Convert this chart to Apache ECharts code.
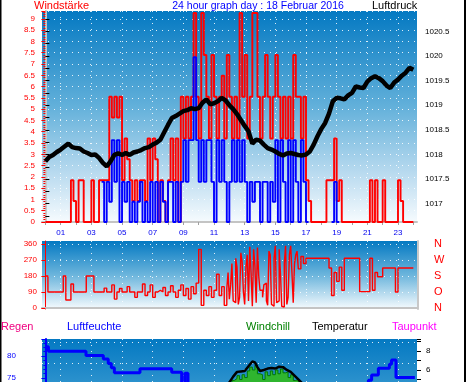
<!DOCTYPE html>
<html><head><meta charset="utf-8">
<script src="https://cdn.jsdelivr.net/npm/echarts@6/dist/echarts.min.js"></script>
<style>html,body{margin:0;padding:0;background:#fff}#c{width:470px;height:382px}</style>
</head><body><div id="c"></div>
<script>
// ---- tick / label arrays ----
const hourTicks = [0,1,2,3,4,5,6,7,8,9,10,11,12,13,14,15,16,17,18,19,20,21,22,23,24];
const hourLabels = [1,3,5,7,9,11,13,15,17,19,21,23];
const gridHours = [1,3,5,7,9,11,13,15,17,19,21,23];
const pressureLabels = [1017,1017.5,1018,1018.5,1019,1019.5,1020,1020.5];
const pressureTicks = [1016.75,1017,1017.25,1017.5,1017.75,1018,1018.25,1018.5,1018.75,1019,1019.25,1019.5,1019.75,1020,1020.25,1020.5,1020.75];
const dirTicks = [0,90,180,270,360];
const compass = ['N','O','S','W','N'];
const tempLabels = [-18,-16,-14,-12,-10,-8,-6,-4,-2,0,2,4,6,8];
const regenGrid = [0.53,1.53,2.53,3.53,4.53,5.53,6.53,7.53,8.53,9.53,10.53,11.53,12.53];

// ---- wind (10-minute samples, 00:00 .. 24:00) ----
const gust = [
 0,0,0,0,0,0,0,0,0,0,
 1.85,0.93,0,1.85,1.85,0,0,0,1.85,0,
 0,1.85,1.85,1.85,1.85,5.55,4.63,5.55,4.63,5.55,
 1.85,3.7,2.78,1.85,0.93,1.85,0.93,1.85,1.85,0.93,
 3.7,1.85,3.7,2.78,0,1.85,0.93,0,1.85,3.7,
 1.85,3.7,0,5.55,3.7,5.55,3.7,5.55,9.26,5.55,
 3.7,9.26,7.4,5.55,3.7,7.4,5.55,3.7,5.55,6.48,
 3.7,7.4,5.55,3.7,5.55,3.7,9.26,5.55,7.4,3.7,
 5.55,9.26,9.26,5.55,3.7,5.55,7.4,5.55,3.7,5.55,
 7.4,5.55,3.7,5.55,3.7,5.55,3.7,7.4,5.55,5.55,
 3.7,5.55,1.85,0.93,0,0,0,0,0,0,
 1.85,1.85,1.85,3.7,0.93,1.85,0,0,0,0,
 0,0,0,0,0,0,0,1.85,0,1.85,
 0,0,1.85,0,0,0,0,0,1.85,0.93,
 0,0,0,0,0
];
const avgWind = [
 null,null,null,null,null,null,null,null,null,null,
 null,null,null,null,null,null,null,null,null,null,
 null,null,1.78,0,1.78,0.9,3.63,1.78,3.63,0,
 1.78,0.9,1.78,0,0.9,0,0.9,1.78,0,0.9,
 0,1.78,0,1.78,0,1.78,0.9,0,1.78,1.78,
 0,1.78,0,1.78,3.63,1.78,3.63,3.63,7.3,3.63,
 1.78,3.63,1.78,3.63,3.63,1.78,0,3.63,1.78,3.63,
 1.78,0,1.78,3.63,1.78,3.63,1.78,3.63,1.78,0,
 1.78,0.9,1.78,1.78,0,1.78,1.78,0,1.78,0.9,
 3.63,0,3.63,1.78,0,3.63,0,3.63,1.78,0,
 3.63,1.78,0,null,null,null,null,null,null,null,
 null,null,0,1.78,0,null,null,null,null,null,
 null,null,null,null,null,null,null,null,null,null,
 null,null,null,null,null,null,null,null,null,null,
 null,null,null,null,null
];
// wind direction, 10-minute samples
const direction = [
 180,90,90,90,90,90,90,180,45,45,
 135,90,90,90,90,90,180,180,180,90,
 90,90,90,112,90,90,130,50,90,110,
 90,90,120,90,90,60,90,90,135,70,
 90,130,60,90,100,90,115,70,90,125,
 90,60,100,130,70,110,50,120,80,140,
 330,15,100,70,120,60,100,190,70,120,
 15,110,50,250,30,230,60,260,20,300,
 345,10,240,340,100,60,140,15,300,10,
 350,40,200,5,350,60,350,30,300,220,
 290,250,280,280,280,280,280,280,280,280,
 280,225,70,200,150,230,100,280,280,280,
 280,280,280,92,92,92,92,280,100,200,
 176,176,225,225,225,225,225,90,225,225,
 225,225,225,225,225
];
// extra 5-minute readings in the gusty afternoon (11:55 .. 16:25)
const directionExtraStart = 71;
const directionExtra = [200,130,40,280,20,310,90,230,40,200,330,30,180,100,130,40,320,20,280,30,330,10,250,20,300,200,250,320];
// ---- pressure (15-minute samples) ----
const pressure = [
 1017.86,1017.95,1017.99,1018.05,1018.10,1018.16,1018.22,1018.15,1018.13,1018.12,
 1018.06,1018.03,1017.99,1018.00,1017.93,1017.83,1017.76,1017.86,1017.99,1018.02,
 1017.99,1018.03,1017.99,1018.04,1018.06,1018.09,1018.13,1018.15,1018.20,1018.24,
 1018.30,1018.45,1018.60,1018.74,1018.78,1018.83,1018.88,1018.90,1018.94,1018.92,
 1018.94,1019.05,1019.12,1019.02,1019.04,1019.08,1019.15,1019.10,1019.00,1018.92,
 1018.82,1018.70,1018.58,1018.47,1018.22,1018.30,1018.28,1018.20,1018.13,1018.10,
 1018.06,1018.01,1017.98,1018.02,1018.03,1018.01,1017.99,1017.98,1018.00,1018.06,
 1018.20,1018.37,1018.52,1018.64,1018.83,1019.08,1019.15,1019.14,1019.12,1019.20,
 1019.25,1019.38,1019.36,1019.35,1019.48,1019.55,1019.59,1019.55,1019.49,1019.40,
 1019.35,1019.46,1019.52,1019.60,1019.66,1019.76,1019.72
];
// ---- lower panel ----
const humidity = [[0.04,82.1],[0.2,81.1],[2.65,80.1],[3.78,79.3],[4.1,78.3],[4.3,77.3],[4.5,76.2],[6.17,77.1],[8.24,76.3],[8.89,72],[9.1,76.1],[9.3,72],[10.5,68],[12,63],[14,61],[16,63],[18,68],[20,72],[21.07,74.5],[21.28,75.7],[21.72,77.2],[22.44,78.1],[22.58,79.1],[22.87,75.1],[24.1,75.1]];
const temperature = [[11.5,3.9],[12.0,4.7],[12.25,5.3],[12.5,5.8],[12.75,5.85],[13.0,5.9],[13.25,6.4],[13.5,6.9],[13.67,6.8],[13.83,6.3],[14.0,5.9],[14.25,6.0],[14.5,6.15],[14.75,6.2],[15.0,6.15],[15.25,6.35],[15.5,6.3],[15.75,6.0],[16.0,5.8],[16.25,5.4],[16.5,5.0],[16.75,4.6],[17.0,4.1],[17.5,3.4]];
const windchill = [[11.83,3.8],[12.0,4.4],[12.17,4.9],[12.33,5.1],[12.5,5.4],[12.67,5.0],[12.83,5.5],[13.0,5.2],[13.17,5.9],[13.33,6.3],[13.5,6.0],[13.67,6.5],[13.83,5.6],[14.0,5.5],[14.17,5.0],[14.33,5.8],[14.5,5.4],[14.67,5.9],[14.83,5.5],[15.0,6.0],[15.17,5.6],[15.33,6.1],[15.5,5.7],[15.67,5.8],[15.83,5.2],[16.0,5.5],[16.17,4.9],[16.33,5.0],[16.5,4.5],[16.67,4.2],[16.83,3.6],[17.0,3.2]];

const t10 = gust.map((_, i) => i / 6);
const t15 = pressure.map((_, i) => i / 4);
const dirData = direction.map((v, i) => [i / 6, v]);
directionExtra.forEach((v, k) => dirData.push([(directionExtraStart + k) / 6 + 1 / 12, v]));
dirData.sort((a, b) => a[0] - b[0]);

const FONT = 'Liberation Sans, Arial, sans-serif';
const dotted = {color:'rgba(255,255,255,0.85)', type:[1,5], width:1};
function grad(stops){return {type:'linear',x:0,y:0,x2:0,y2:1,colorStops:stops.map(s=>({offset:s[0],color:s[1]}))};}
const xBase = {type:'value', min:-0.22, max:24.24};

const chart = echarts.init(document.getElementById('c'), null, {renderer:'canvas'});
chart.setOption({
  animation:false,
  backgroundColor:'#ffffff',
  textStyle:{fontFamily:FONT},
  grid:[
    {left:42,right:53,top:11,height:211,show:true,borderWidth:0,outerBoundsMode:'none',
     backgroundColor:grad([[0,'#0479c2'],[0.45,'#62b0da'],[0.78,'#bcdcf0'],[1,'#f6fbfe']])},
    {left:42,right:53,top:241,height:68,show:true,borderWidth:0,outerBoundsMode:'none',
     backgroundColor:grad([[0,'#0479c2'],[0.5,'#6cb5dc'],[1,'#f6fbfe']])},
    {left:42,right:53,top:339,height:259,show:true,borderWidth:0,outerBoundsMode:'none',
     backgroundColor:grad([[0,'#0479c2'],[0.2,'#3396cf'],[1,'#ffffff']])}
  ],
  xAxis:[
    Object.assign({},xBase,{gridIndex:0,position:'bottom',offset:2,
      axisLine:{show:true,lineStyle:{color:'#c4c4c4',width:2}},
      axisTick:{show:true,customValues:hourTicks,length:3,lineStyle:{color:'#a0a0a0'}},
      axisLabel:{customValues:hourLabels,formatter:v=>(v<10?'0':'')+v,color:'#0000ee',fontSize:8,margin:5,fontFamily:FONT},
      splitLine:{show:false}}),
    Object.assign({},xBase,{gridIndex:0,position:'top',axisLine:{show:false},
      axisTick:{show:false,customValues:gridHours},axisLabel:{show:false},splitLine:{show:true,lineStyle:dotted}}),
    Object.assign({},xBase,{gridIndex:1,position:'bottom',offset:1,axisLine:{show:true,lineStyle:{color:'#c4c4c4',width:2}},
      axisTick:{show:false,customValues:gridHours},axisLabel:{show:false},splitLine:{show:true,lineStyle:dotted}}),
    Object.assign({},xBase,{gridIndex:2,position:'bottom',axisLine:{show:false},
      axisTick:{show:false,customValues:gridHours},axisLabel:{show:false},splitLine:{show:true,lineStyle:dotted}})
  ],
  yAxis:[
    {type:'value',gridIndex:0,position:'left',min:0,max:9.35,interval:0.5,
     axisLine:{show:true,lineStyle:{color:'#ff0000'}},
     axisTick:{show:true,length:4,lineStyle:{color:'#ff0000'}},
     minorTick:{show:true,splitNumber:5,length:2,lineStyle:{color:'#ff0000'}},
     axisLabel:{color:'#ff0000',fontSize:8,margin:7,showMaxLabel:false,fontFamily:FONT},
     splitLine:{show:true,lineStyle:dotted}},
    {type:'value',gridIndex:0,position:'right',min:1016.628,max:1020.914,offset:1,
     axisLine:{show:true,lineStyle:{color:'#c8c8c8',width:2}},
     axisTick:{show:true,customValues:pressureTicks,length:4,lineStyle:{color:'#000'}},
     axisLabel:{customValues:pressureLabels,formatter:v=>String(v),color:'#000',fontSize:8,margin:7,fontFamily:FONT},
     splitLine:{show:false}},
    {type:'value',gridIndex:1,position:'left',min:-5.625,max:376.9,
     axisLine:{show:true,lineStyle:{color:'#ff0000'}},
     axisTick:{show:true,customValues:dirTicks,length:4,lineStyle:{color:'#ff0000'}},
     axisLabel:{customValues:dirTicks,formatter:v=>String(v),color:'#ff0000',fontSize:8,margin:5,fontFamily:FONT},
     splitLine:{show:true,lineStyle:dotted}},
    {type:'value',gridIndex:1,position:'right',min:-5.625,max:376.9,offset:1,
     axisLine:{show:true,lineStyle:{color:'#c8c8c8',width:2}},
     axisTick:{show:false},
     axisLabel:{customValues:dirTicks,formatter:v=>compass[dirTicks.indexOf(v)],color:'#ff0000',fontSize:11,margin:16,fontFamily:FONT},
     splitLine:{show:false}},
    {type:'value',gridIndex:2,position:'left',offset:20,min:25,max:83.86,interval:5,
     axisLine:{show:true,lineStyle:{color:'#0000ff',width:2}},
     axisTick:{show:true,length:4,lineStyle:{color:'#0000ff'}},
     minorTick:{show:true,splitNumber:5,length:2,lineStyle:{color:'#0000ff'}},
     axisLabel:{color:'#0000ff',fontSize:8,margin:6,showMaxLabel:false,fontFamily:FONT},
     splitLine:{show:false}},
    {type:'value',gridIndex:2,position:'right',min:-18,max:9.26,interval:1,
     axisLine:{show:false},
     axisTick:{show:true,length:4,lineStyle:{color:'#000'}},
     axisLabel:{customValues:tempLabels,color:'#000',fontSize:8,margin:9,fontFamily:FONT},
     splitLine:{show:false}},
    {type:'value',gridIndex:2,position:'left',min:0,max:12.7,
     axisLine:{show:false},axisTick:{show:false,customValues:regenGrid},axisLabel:{show:false},
     splitLine:{show:true,lineStyle:dotted}}
  ],
  series:[
    {type:'line',xAxisIndex:0,yAxisIndex:0,step:'end',symbol:'none',z:2,
     data:t10.map((t,i)=>[t,gust[i]]),lineStyle:{color:'#ff0000',width:1.9}},
    {type:'line',xAxisIndex:0,yAxisIndex:0,step:'end',symbol:'none',z:3,
     data:t10.map((t,i)=>[t,avgWind[i]]),lineStyle:{color:'#0000ff',width:1.9}},
    {type:'line',xAxisIndex:0,yAxisIndex:1,symbol:'none',z:4,
     data:t15.map((t,i)=>[t,pressure[i]]),lineStyle:{color:'#000000',width:4.5}},
    {type:'line',xAxisIndex:2,yAxisIndex:2,step:'end',symbol:'none',z:3,
     data:dirData,lineStyle:{color:'#ff0000',width:1.4}},
    {type:'line',xAxisIndex:3,yAxisIndex:4,step:'end',symbol:'none',z:3,
     data:humidity,lineStyle:{color:'#0000ff',width:3}},
    {type:'line',xAxisIndex:3,yAxisIndex:5,step:'end',symbol:'none',z:2,
     data:windchill,lineStyle:{color:'#007800',width:1},areaStyle:{color:'#2fb52f',opacity:1}},
    {type:'line',xAxisIndex:3,yAxisIndex:5,symbol:'none',z:4,
     data:temperature,lineStyle:{color:'#000000',width:2.5}}
  ],
  graphic:[
    {type:'line',shape:{x1:0.75,y1:0,x2:0.75,y2:382},style:{stroke:'#000',lineWidth:1.5},silent:true},
    {type:'line',shape:{x1:465,y1:0,x2:465,y2:382},style:{stroke:'#000',lineWidth:2},silent:true},
    {type:'text',x:34,y:6,style:{text:'Windstärke',fill:'#ff0000',font:'11px '+FONT,textAlign:'left',textVerticalAlign:'middle',align:'left',verticalAlign:'middle'}},
    {type:'text',x:258,y:6,style:{text:'24 hour graph day : 18 Februar 2016',fill:'#0000ff',font:'10.5px '+FONT,textAlign:'center',textVerticalAlign:'middle',align:'center',verticalAlign:'middle'}},
    {type:'text',x:372,y:6,style:{text:'Luftdruck',fill:'#000000',font:'11px '+FONT,textAlign:'left',textVerticalAlign:'middle',align:'left',verticalAlign:'middle'}},
    {type:'text',x:1,y:327,style:{text:'Regen',fill:'#f00080',font:'11px '+FONT,textAlign:'left',textVerticalAlign:'middle',align:'left',verticalAlign:'middle'}},
    {type:'text',x:67,y:327,style:{text:'Luftfeuchte',fill:'#0000ff',font:'11px '+FONT,textAlign:'left',textVerticalAlign:'middle',align:'left',verticalAlign:'middle'}},
    {type:'text',x:246,y:327,style:{text:'Windchill',fill:'#008000',font:'11px '+FONT,textAlign:'left',textVerticalAlign:'middle',align:'left',verticalAlign:'middle'}},
    {type:'text',x:312,y:327,style:{text:'Temperatur',fill:'#000000',font:'11px '+FONT,textAlign:'left',textVerticalAlign:'middle',align:'left',verticalAlign:'middle'}},
    {type:'text',x:392,y:327,style:{text:'Taupunkt',fill:'#ff00ff',font:'11px '+FONT,textAlign:'left',textVerticalAlign:'middle',align:'left',verticalAlign:'middle'}}
  ]
});
</script></body></html>
